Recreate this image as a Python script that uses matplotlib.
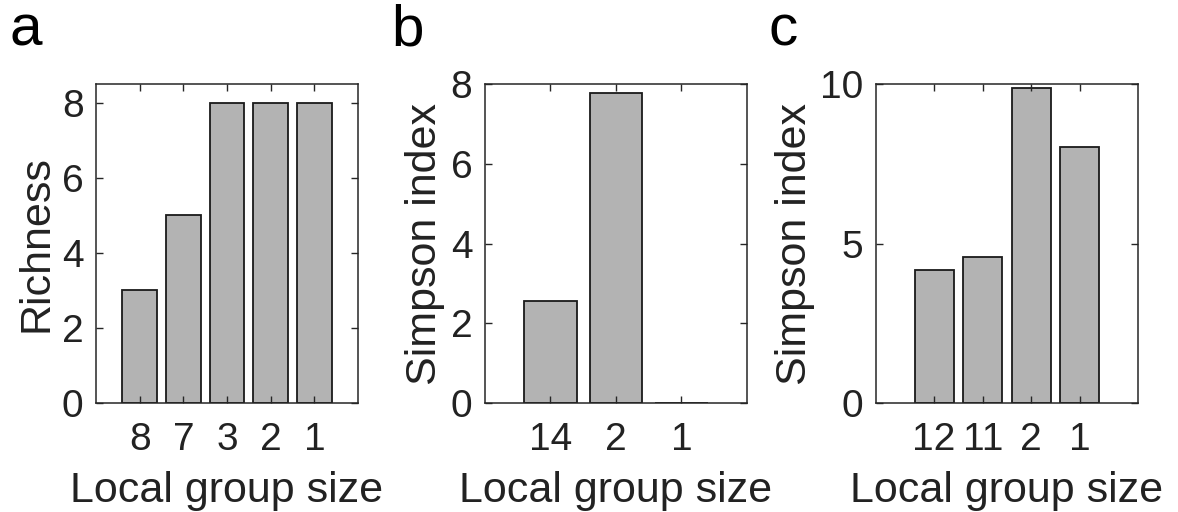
import matplotlib
matplotlib.use("Agg")
import matplotlib.pyplot as plt

plt.rcParams['font.family'] = ['Liberation Sans', 'DejaVu Sans']

# panel a
a_labels = ['8', '7', '3', '2', '1']
a_vals = [3, 5, 8, 8, 8]
# panel b
b_labels = ['14', '2', '1']
b_vals = [2.55, 7.78, 0]
# panel c
c_labels = ['12', '11', '2', '1']
c_vals = [4.18, 4.57, 9.87, 8.03]

fig = plt.figure(figsize=(11.78, 5.12), dpi=100)

panels = [
    # left, data, labels, ylabel, ylim, yticks, xlim, letter, letter x
    (0.0815, a_vals, a_labels, 'Richness', (0, 8.5), [0, 2, 4, 6, 8], (0, 6), 'a', 0.008),
    (0.4117, b_vals, b_labels, 'Simpson index', (0, 8), [0, 2, 4, 6, 8], (0, 4), 'b', 0.332),
    (0.7436, c_vals, c_labels, 'Simpson index', (0, 10), [0, 5, 10], (-0.2, 5.2), 'c', 0.652),
]

txt = '#222222'
for left, vals, labs, ylab, ylim, yt, xl, letter, lx in panels:
    ax = fig.add_axes([left, 0.2129, 0.2224, 0.623])
    x = list(range(1, len(vals) + 1))
    ax.bar(x, vals, width=0.8, color='#b3b3b3', edgecolor='#1a1a1a', linewidth=1.3)
    ax.set_xlim(*xl)
    ax.set_ylim(*ylim)
    ax.set_xticks(x)
    ax.set_xticklabels(labs)
    ax.set_yticks(yt)
    ax.tick_params(direction='in', length=5, width=1, top=True, right=True,
                   labelsize=28, colors='#262626', labelcolor=txt, pad=9)
    ax.tick_params(axis='x', pad=14)
    for s in ax.spines.values():
        s.set_color('#262626')
        s.set_linewidth(1.1)
    ax.set_xlabel('Local group size', fontsize=31, color=txt, labelpad=9)
    ax.set_ylabel(ylab, fontsize=31, color=txt, labelpad=4)
    fig.text(lx, 0.912, letter, fontsize=42, color='black', va='baseline', ha='left')

fig.savefig('out.png', dpi=100)
